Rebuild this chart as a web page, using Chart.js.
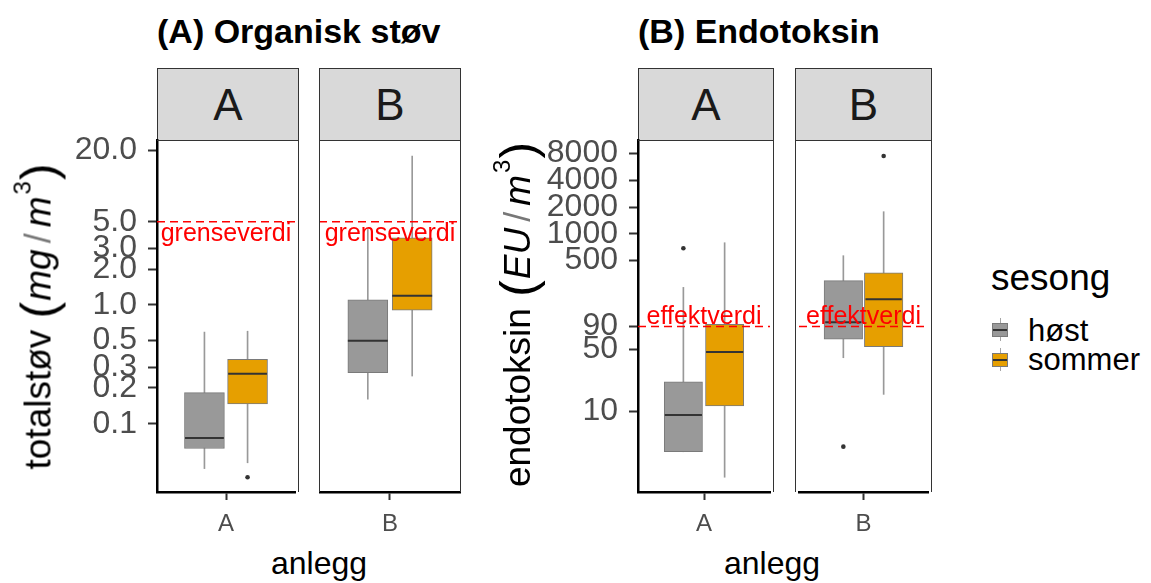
<!DOCTYPE html>
<html>
<head>
<meta charset="utf-8">
<script src="https://cdn.jsdelivr.net/npm/chart.js@4.4.1/dist/chart.umd.min.js"></script>
<style>
  html, body { margin: 0; padding: 0; background: #fff; overflow: hidden; }
  #stage { position: absolute; left: 0; top: 0; width: 1151px; height: 583px;
           font-family: 'Liberation Sans', Arial, sans-serif; color: #000; }
  canvas { position: absolute; }
  .abs { position: absolute; white-space: nowrap; line-height: 1; }
  .strip { position: absolute; top: 68px; height: 73px; background: #d9d9d9;
           border: 1.5px solid #333; box-sizing: border-box; display: flex;
           align-items: center; justify-content: center; font-size: 44px; color: #1a1a1a; }
  .frame { position: absolute; top: 140px; height: 352px; border: 1.5px solid #333;
           border-bottom: none; box-sizing: border-box; pointer-events: none; }
  .title { position: absolute; top: 14px; font-weight: bold; font-size: 34px; white-space: nowrap; line-height: 1; }
  .xtitle { position: absolute; top: 547px; font-size: 32px; line-height: 1; transform: translateX(-50%); white-space: nowrap; }
  .ytitle { position: absolute; white-space: nowrap; font-size: 37px; line-height: 1;
            transform: translate(-50%, -50%) rotate(-90deg); }
  .ytitle .par { font-size: 50px; font-weight: 300; vertical-align: -5px; margin: 0 1px; }
  .ytitle .sl { color: #777; font-size: 36px; margin: 0 6px; }
  .ytitle sup { font-size: 24px; vertical-align: 20px; margin-left: 2px; }
  .key { position: absolute; width: 16px; height: 14px; box-sizing: border-box; border: 1px solid #7a7a7a; }
  .key::before { content: ''; position: absolute; left: 0; right: 0; top: 5px; height: 2px; background: #333; }
  .whisk { position: absolute; width: 1px; background: #a6a6a6; }
</style>
</head>
<body>
<div id="stage">
  <div class="title" style="left:157px;">(A) Organisk støv</div>
  <div class="title" style="left:638px;">(B) Endotoksin</div>

  <div class="strip" style="left:157px;width:142px;">A</div>
  <div class="strip" style="left:319px;width:142px;">B</div>
  <div class="strip" style="left:638px;width:136px;">A</div>
  <div class="strip" style="left:795px;width:137px;">B</div>

  <canvas id="dustA" width="249" height="430" style="left:50px;top:105px;"></canvas>
  <canvas id="dustB" width="142" height="430" style="left:319px;top:105px;"></canvas>
  <canvas id="endoA" width="244" height="430" style="left:530px;top:105px;"></canvas>
  <canvas id="endoB" width="137" height="430" style="left:795px;top:105px;"></canvas>

  <div class="frame" style="left:157px;width:142px;border-left:none;"></div>
  <div class="frame" style="left:319px;width:142px;"></div>
  <div class="frame" style="left:638px;width:136px;border-left:none;"></div>
  <div class="frame" style="left:795px;width:137px;"></div>

  <div class="ytitle" style="left:37px;top:316px;">totalstøv <span class="par">(</span><i>mg</i><span class="sl">/</span><i>m</i><sup>3</sup><span class="par">)</span></div>
  <div class="ytitle" style="left:516px;top:314px;">endotoksin <span class="par">(</span><i>EU</i><span class="sl">/</span><i>m</i><sup>3</sup><span class="par">)</span></div>

  <div class="xtitle" style="left:319px;">anlegg</div>
  <div class="xtitle" style="left:772px;">anlegg</div>

  <div class="abs" style="left:991px;top:259px;font-size:37px;">sesong</div>
  <div class="whisk" style="left:1000px;top:318px;height:23px;"></div>
  <div class="key" style="left:992px;top:323px;background:#999999;"></div>
  <div class="abs" style="left:1028px;top:315px;font-size:31px;">høst</div>
  <div class="whisk" style="left:1000px;top:348px;height:23px;"></div>
  <div class="key" style="left:992px;top:353px;background:#E69F00;"></div>
  <div class="abs" style="left:1028px;top:344px;font-size:31px;">sommer</div>
</div>

<script>
// Facet (anlegg) and fill (sesong) levels
const anlegg = ['A', 'B'];
const sesong = ['høst', 'sommer'];

// Totalstøv, mg/m3 — [min, Q1, median, Q3, max] per anlegg
const stovHost   = [[0.042, 0.062, 0.076, 0.183, 0.59], [0.161, 0.269, 0.50, 1.10, 4.3]];
const stovSommer = [[0.047, 0.147, 0.264, 0.348, 0.60], [0.252, 0.90, 1.19, 3.66, 17.8]];
const stovHostOut   = [[], []];
const stovSommerOut = [[0.0355], []];

// Endotoksin, EU/m3 — [min, Q1, median, Q3, max] per anlegg
const endoHost   = [[3.47, 3.47, 9.0, 21.4, 248], [39.9, 64.4, 100, 295, 565]];
const endoSommer = [[1.79, 11.4, 46.3, 95, 791], [15.4, 53.1, 182, 363, 1771]];
const endoHostOut   = [[684], [3.96]];
const endoSommerOut = [[], [7520]];

// Axis ticks and limits (log10 scale)
const stovTicks = [0.1, 0.2, 0.3, 0.5, 1, 2, 3, 5, 20];
const endoTicks = [10, 50, 90, 500, 1000, 2000, 4000, 8000];
const stovLimits = [0.0267, 24.3];
const endoLimits = [1.22, 11400];

// Reference levels
const grenseverdi = 5;
const effektverdi = 90;

const FONT = "'Liberation Sans', Arial, sans-serif";
const X_MIN = 0.4, X_MAX = 1.6;     // discrete axis with 0.6 expansion around the single level
const DODGE = 0.1875;               // half of the dodge width 0.75
const HALF_BOX = 0.16875;           // half box width after dodge padding

// Red label under/over the reference line
const refLabelPlugin = {
  id: 'refLabel',
  afterDatasetsDraw(chart, args, o) {
    const { ctx, scales } = chart;
    const y = scales.y.getPixelForValue(o.value);
    const x = scales.x.getPixelForValue(1);
    ctx.save();
    ctx.font = `25px ${FONT}`;
    ctx.fillStyle = '#ff0000';
    ctx.textAlign = 'center';
    ctx.textBaseline = 'alphabetic';
    ctx.fillText(o.text, x, o.above ? y - 2 : y + 19);
    ctx.restore();
  }
};

function seasonDatasets(stats, outliers, pos, fill, boxPx) {
  const [lo, q1, med, q3, hi] = stats;
  return [
    { type: 'bar', data: [{ x: pos, y: [lo, hi] }], barThickness: 1,
      backgroundColor: '#999999', grouped: false, order: 6 },
    { type: 'bar', data: [{ x: pos, y: [q1, q3] }], barThickness: boxPx,
      backgroundColor: fill, borderColor: '#7a7a7a', borderWidth: 1,
      borderSkipped: false, grouped: false, order: 5 },
    { type: 'line', data: [{ x: pos - HALF_BOX, y: med }, { x: pos + HALF_BOX, y: med }],
      borderColor: '#333333', borderWidth: 2, pointRadius: 0, order: 4 },
    { type: 'scatter', data: outliers.map(v => ({ x: pos, y: v })),
      pointRadius: 2.3, backgroundColor: '#333333', borderWidth: 0, order: 3 }
  ];
}

function makeFacet(cfg) {
  const canvas = document.getElementById(cfg.id);
  const plotW = canvas.width - cfg.yWidth;
  const boxPx = plotW * (2 * HALF_BOX) / (X_MAX - X_MIN);
  const i = cfg.facet;
  const datasets = [
    ...seasonDatasets(cfg.host[i], cfg.hostOut[i], 1 - DODGE, '#999999', boxPx),
    ...seasonDatasets(cfg.sommer[i], cfg.sommerOut[i], 1 + DODGE, '#E69F00', boxPx),
    { type: 'line', data: [{ x: X_MIN, y: cfg.ref }, { x: X_MAX, y: cfg.ref }],
      borderColor: '#ff0000', borderWidth: 1.5, borderDash: [8, 5], pointRadius: 0, order: 1 }
  ];

  new Chart(canvas, {
    type: 'scatter',
    data: { datasets },
    options: {
      responsive: false,
      animation: false,
      events: [],
      layout: { padding: { top: 35, left: 0, right: 0, bottom: 0 } },
      plugins: {
        legend: { display: false },
        tooltip: { enabled: false },
        refLabel: { value: cfg.ref, text: cfg.refText, above: cfg.above }
      },
      scales: {
        x: {
          type: 'linear', min: X_MIN, max: X_MAX, bounds: 'data', offset: false,
          border: { display: true, color: '#000', width: 2.5 },
          grid: { display: true, offset: false, drawOnChartArea: false, drawTicks: true,
                  tickLength: 8, tickColor: '#333', tickWidth: 2 },
          ticks: { font: { family: FONT, size: 24 }, color: '#4d4d4d', padding: 10,
                   callback: () => anlegg[i] },
          afterBuildTicks: s => { s.ticks = [{ value: 1 }]; },
          afterFit: s => { s.height = 43; }
        },
        y: {
          type: 'logarithmic', min: cfg.limits[0], max: cfg.limits[1], bounds: 'data',
          display: cfg.yWidth > 0,
          border: { display: true, color: '#000', width: 2.5 },
          grid: { display: true, drawOnChartArea: false, drawTicks: true,
                  tickLength: 9, tickColor: '#333', tickWidth: 2 },
          ticks: { font: { family: FONT, size: 32 }, color: '#4d4d4d', padding: 11,
                   autoSkip: false, callback: v => cfg.fmt(v) },
          afterBuildTicks: s => { s.ticks = cfg.ticks.map(v => ({ value: v })); },
          afterFit: s => { s.width = cfg.yWidth; }
        }
      }
    },
    plugins: [refLabelPlugin]
  });
}

const fmtDust = v => Number(v).toFixed(1);
const fmtEndo = v => String(v);

const dustCommon = { host: stovHost, sommer: stovSommer, hostOut: stovHostOut, sommerOut: stovSommerOut,
  ticks: stovTicks, limits: stovLimits, ref: grenseverdi, refText: 'grenseverdi', above: false, fmt: fmtDust };
const endoCommon = { host: endoHost, sommer: endoSommer, hostOut: endoHostOut, sommerOut: endoSommerOut,
  ticks: endoTicks, limits: endoLimits, ref: effektverdi, refText: 'effektverdi', above: true, fmt: fmtEndo };

makeFacet({ ...dustCommon, id: 'dustA', facet: 0, yWidth: 107 });
makeFacet({ ...dustCommon, id: 'dustB', facet: 1, yWidth: 0 });
makeFacet({ ...endoCommon, id: 'endoA', facet: 0, yWidth: 108 });
makeFacet({ ...endoCommon, id: 'endoB', facet: 1, yWidth: 0 });
</script>
</body>
</html>
